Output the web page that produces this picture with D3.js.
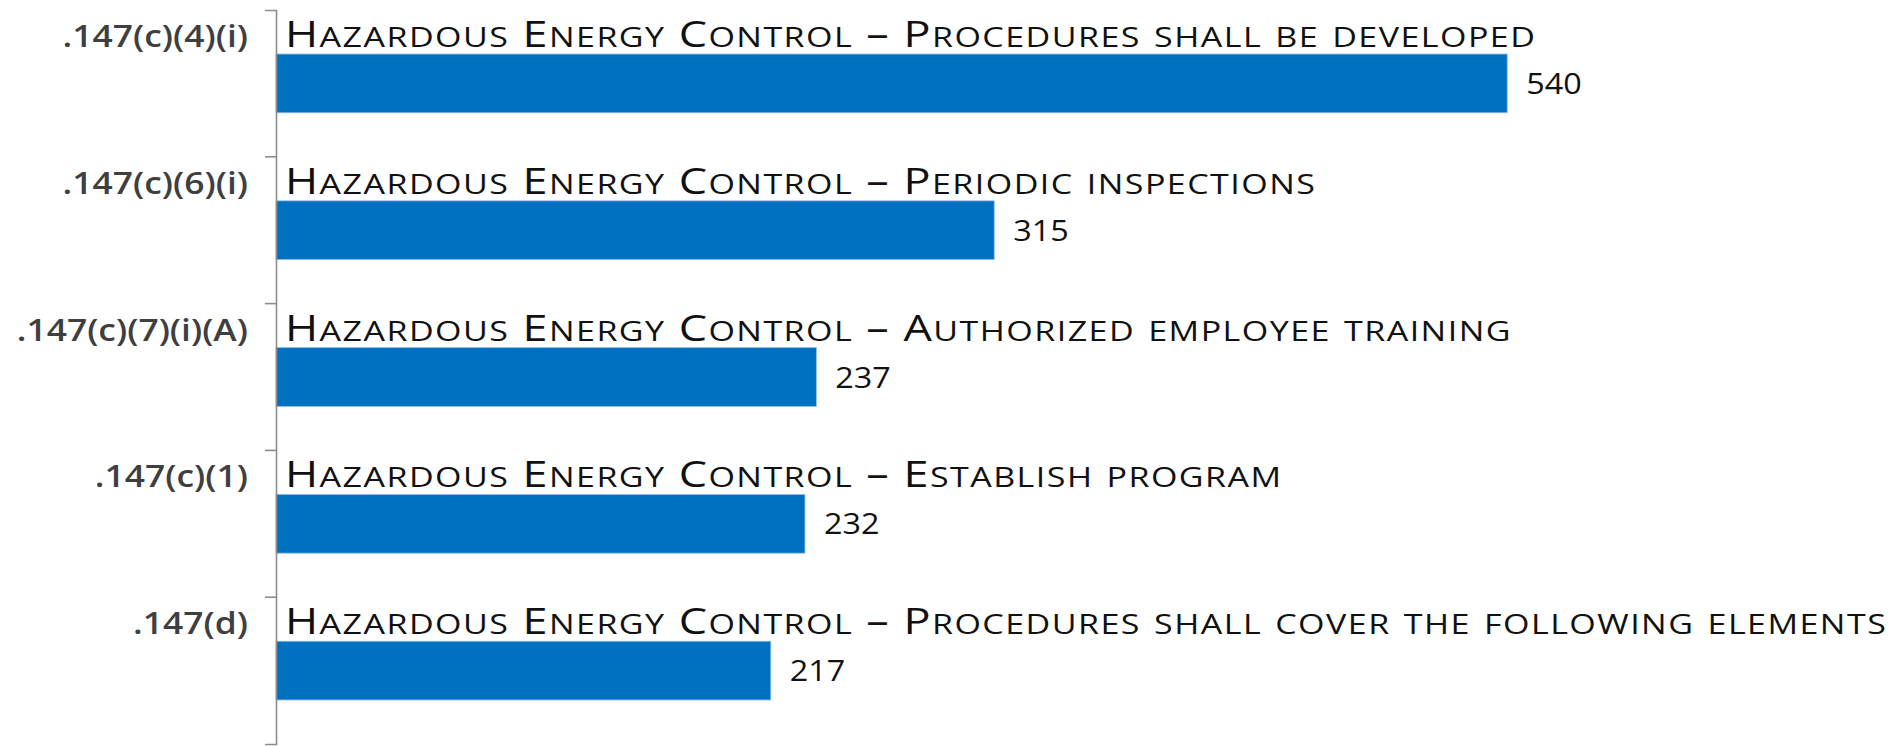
<!DOCTYPE html>
<html>
<head>
<meta charset="utf-8">
<script src="https://cdn.jsdelivr.net/npm/d3@7"></script>
<style>
  html, body { margin: 0; padding: 0; background: #ffffff; }
  svg { display: block; }
</style>
</head>
<body>
<svg id="chart" width="1901" height="746"></svg>
<script>
const categories = [".147(c)(4)(i)", ".147(c)(6)(i)", ".147(c)(7)(i)(A)", ".147(c)(1)", ".147(d)"];
const descriptions = [
  "Hazardous Energy Control – Procedures shall be developed",
  "Hazardous Energy Control – Periodic inspections",
  "Hazardous Energy Control – Authorized employee training",
  "Hazardous Energy Control – Establish program",
  "Hazardous Energy Control – Procedures shall cover the following elements"
];
const values = [540, 315, 237, 232, 217];
const xDomain = [0, 600];

const svg = d3.select("#chart");

const axisX = 276;
const x = d3.scaleLinear().domain(xDomain).range([axisX, 1644]);
const y = d3.scaleBand().domain(categories).range([10, 744]).paddingInner(0.6).paddingOuter(0.3);

const FONT = "'Open Sans', 'Liberation Sans', sans-serif";

// stretch helper: widen text horizontally like the reference
function stretch(sel, k) {
  sel.each(function() {
    const n = this.getComputedTextLength();
    this.setAttribute("textLength", n * k);
    this.setAttribute("lengthAdjust", "spacingAndGlyphs");
  });
}

// bars
svg.append("g").selectAll("rect")
  .data(categories)
  .join("rect")
  .attr("x", x(0))
  .attr("y", d => y(d))
  .attr("width", (d, i) => x(values[i]) - x(0))
  .attr("height", y.bandwidth())
  .attr("fill", "#0070C0")
  .attr("stroke", "#8fbde6")
  .attr("stroke-width", 0.8);

// axis (domain line with outer ticks)
const axisG = svg.append("g")
  .attr("transform", `translate(${axisX},0)`)
  .call(d3.axisLeft(y).tickValues([]).tickSizeOuter(11));
axisG.select(".domain").attr("stroke", "#8c8c8c").attr("stroke-width", 1.6);

// inner boundary ticks between categories
const step = y.step();
svg.append("g").selectAll("line")
  .data(categories.slice(1))
  .join("line")
  .attr("x1", axisX - 11)
  .attr("x2", axisX)
  .attr("y1", d => y(d) - step * y.paddingInner() / 2)
  .attr("y2", d => y(d) - step * y.paddingInner() / 2)
  .attr("stroke", "#8c8c8c")
  .attr("stroke-width", 1.6);

// category labels
const catLabels = svg.append("g").selectAll("text")
  .data(categories)
  .join("text")
  .attr("x", 248)
  .attr("y", d => y(d) - 7)
  .attr("text-anchor", "end")
  .attr("font-family", FONT)
  .attr("font-weight", 600)
  .attr("font-size", 30)
  .attr("fill", "#3f3f3f")
  .text(d => d);
stretch(catLabels, 1.18);

// description titles in small caps
const titles = svg.append("g").selectAll("text")
  .data(categories)
  .join("text")
  .attr("x", axisX + 9)
  .attr("y", d => y(d) - 7)
  .attr("font-family", FONT)
  .attr("fill", "#111111")
  .style("letter-spacing", "1.2px");
titles.each(function(d, i) {
  const t = d3.select(this);
  const parts = descriptions[i].match(/[a-z]+|[^a-z]+/g);
  parts.forEach(p => {
    const lower = /^[a-z]+$/.test(p);
    t.append("tspan")
      .attr("font-size", lower ? 28 : 37)
      .text(lower ? p.toUpperCase() : p);
  });
});
stretch(titles, 1.215);

// value labels
const valLabels = svg.append("g").selectAll("text")
  .data(categories)
  .join("text")
  .attr("x", (d, i) => x(values[i]) + 19)
  .attr("y", d => y(d) + y.bandwidth() / 2)
  .attr("dy", "0.36em")
  .attr("font-family", FONT)
  .attr("font-size", 29.4)
  .attr("fill", "#111111")
  .text((d, i) => values[i]);
stretch(valLabels, 1.1);
</script>
</body>
</html>
